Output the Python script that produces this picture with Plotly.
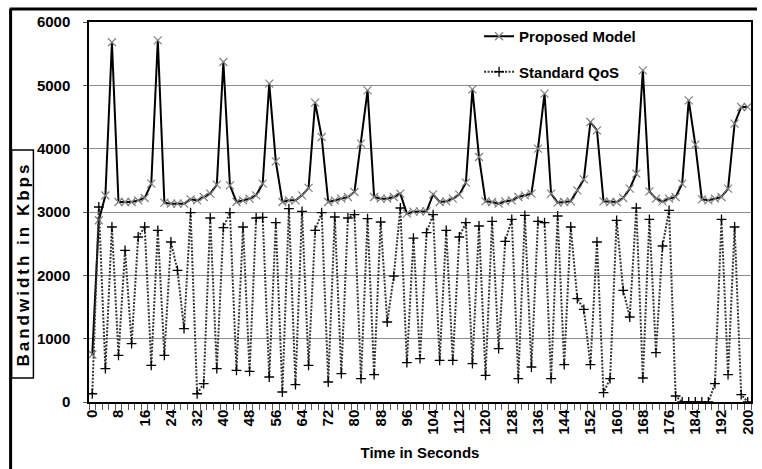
import plotly.graph_objects as go

time_s = list(range(0, 201, 2))

proposed_model = [
    750, 2870, 3260, 5680, 3158, 3158, 3158, 3184, 3221, 3447,
    5710, 3147, 3132, 3132, 3132, 3200, 3184, 3237, 3289, 3432,
    5368, 3421, 3158, 3184, 3210, 3263, 3447, 5026, 3800, 3158,
    3184, 3184, 3263, 3380, 4726, 4184, 3158, 3184, 3210, 3237,
    3316, 4079, 4921, 3237, 3210, 3210, 3237, 3289, 2974, 3005,
    3011, 3011, 3279, 3158, 3168, 3210, 3274, 3463, 4937, 3868,
    3168, 3158, 3132, 3168, 3184, 3237, 3263, 3289, 4000, 4868,
    3289, 3147, 3158, 3168, 3342, 3516, 4421, 4289, 3168, 3158,
    3158, 3221, 3368, 3605, 5237, 3326, 3210, 3168, 3210, 3237,
    3447, 4763, 4063, 3200, 3184, 3210, 3237, 3368, 4395, 4658,
    4658,
]

standard_qos = [
    130, 3079, 526, 2763, 737, 2395, 921, 2605, 2763, 579,
    2710, 737, 2526, 2079, 1158, 2989, 130, 289, 2905, 526,
    2753, 2989, 500, 2763, 484, 2905, 2916, 395, 2832, 158,
    3053, 274, 3011, 579, 2711, 2989, 316, 2921, 447, 2905,
    2958, 368, 2895, 432, 2842, 1263, 1989, 3063, 621, 2589,
    684, 2674, 2958, 658, 2711, 658, 2605, 2832, 605, 2779,
    421, 2853, 842, 2537, 2884, 368, 2947, 553, 2853, 2832,
    368, 2937, 589, 2763, 1632, 1463, 589, 2526, 147, 368,
    2868, 1763, 1342, 3063, 379, 2884, 779, 2463, 3026, 95,
    0, 0, 0, 0, 0, 289, 2884, 432, 2763, 116,
    0,
]

x_tick_vals = list(range(0, 201, 8))
y_tick_vals = list(range(0, 6001, 1000))

FONT = "Liberation Sans"
FS = 15

fig = go.Figure()
fig.add_trace(go.Scatter(
    x=time_s, y=proposed_model, name="Proposed Model", mode="lines+markers",
    legendgroup="a",
    line=dict(color="black", width=2),
    marker=dict(symbol="x-thin", size=8, color="#808080",
                line=dict(color="#808080", width=1.2)),
))
fig.add_trace(go.Scatter(
    x=time_s, y=standard_qos, name="Standard QoS", mode="lines+markers",
    legendgroup="b",
    line=dict(color="#333333", width=2, dash="2px,1.5px"),
    marker=dict(symbol="cross-thin", size=7, color="black",
                line=dict(color="black", width=1.3)),
))

L, R, T, B = 89, 6, 22, 67
W, H = 762, 469
pw = W - L - R
ph = H - T - B


def px(xp):
    return (xp - L) / pw


def py(yp):
    return (H - B - yp) / ph


fig.update_layout(
    width=W, height=H,
    margin=dict(l=L, r=R, t=T, b=B),
    paper_bgcolor="white", plot_bgcolor="white",
    font=dict(family=FONT, size=FS, color="black"),
    showlegend=True,
    legend=dict(
        x=px(482), y=py(20), xanchor="left", yanchor="top",
        bgcolor="rgba(0,0,0,0)", tracegroupgap=13,
        font=dict(family=FONT, size=FS, color="black", weight="bold"),
        itemwidth=30,
    ),
    xaxis=dict(
        range=[-1, 201], tickmode="array", tickvals=x_tick_vals,
        ticktext=[str(v) for v in x_tick_vals], tickangle=-90,
        ticks="", showgrid=False, zeroline=False,
        showline=True, linecolor="black", linewidth=1.5, mirror=True,
        tickfont=dict(family=FONT, size=FS, color="black", weight="bold"),
        minor=dict(tickmode="linear", tick0=-1, dtick=2, ticks="outside",
                   ticklen=6, tickcolor="#555", tickwidth=1, showgrid=False),
        title=dict(text="Time in Seconds", standoff=14,
                   font=dict(family=FONT, size=FS, color="black", weight="bold")),
    ),
    yaxis=dict(
        range=[0, 6000], tickmode="array", tickvals=y_tick_vals,
        showgrid=True, gridcolor="#8c8c8c", gridwidth=1, zeroline=False,
        showline=True, linecolor="black", linewidth=1.5, mirror=True,
        ticks="outside", ticklen=4, tickcolor="#555",
        ticklabelstandoff=10,
        tickfont=dict(family=FONT, size=FS, color="black", weight="bold"),
    ),
    annotations=[dict(
        text='<span style="letter-spacing:3px"><b>Bandwidth in Kbps</b></span>',
        textangle=-90,
        xref="paper", yref="paper", x=px(22), y=py(264),
        xanchor="center", yanchor="middle", showarrow=False,
        font=dict(family=FONT, size=17, color="black"),
    )],
    shapes=[
        dict(type="rect", xref="paper", yref="paper",
             x0=px(11), x1=px(33), y0=py(150), y1=py(378),
             line=dict(color="black", width=1.5), fillcolor="rgba(0,0,0,0)"),
        dict(type="line", xref="paper", yref="paper",
             x0=px(9), x1=px(762), y0=py(9), y1=py(9),
             line=dict(color="black", width=3)),
        dict(type="line", xref="paper", yref="paper",
             x0=px(10), x1=px(10), y0=py(9), y1=py(469),
             line=dict(color="black", width=3)),
    ],
)

fig.write_html("out.html")
